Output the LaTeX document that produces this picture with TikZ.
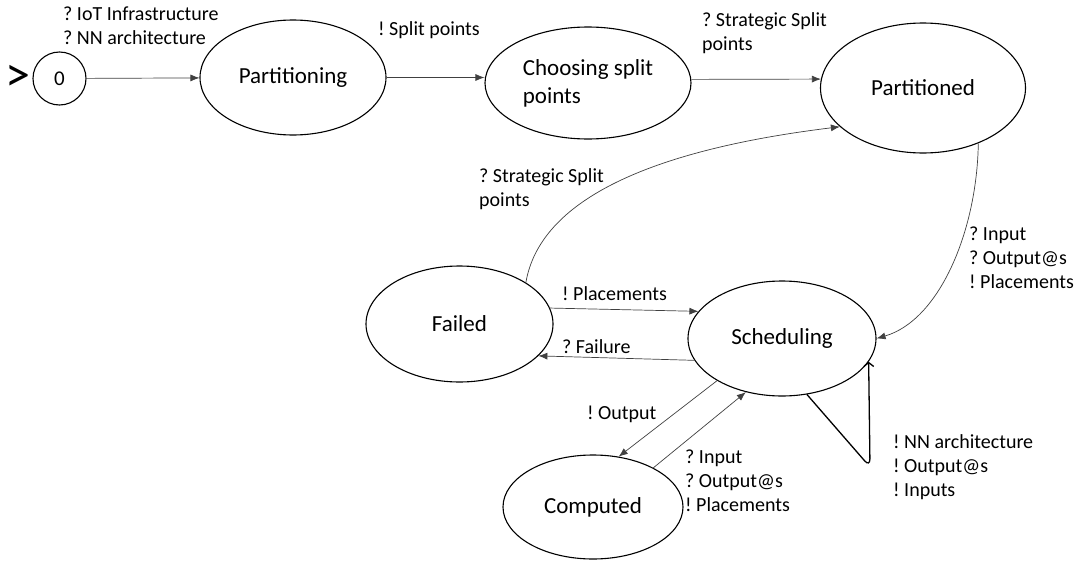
\documentclass[tikz,border=0pt]{standalone}
\usepackage{fontspec}
\setmainfont{Carlito}
\usetikzlibrary{shapes.geometric,arrows.meta}
\frenchspacing

\begin{document}
\begin{tikzpicture}[x=1pt,y=-1pt,
        state/.style={draw,ellipse,line width=1.1pt,inner sep=0pt,align=left,font=\fontsize{23}{28}\selectfont},
        trans/.style={draw=black!75,line width=0.7pt,-{Latex[length=9pt,width=7pt]}},
        lbl/.style={anchor=west,inner sep=0pt,align=left,font=\fontsize{20}{24}\selectfont}]
        \useasboundingbox (0,0) rectangle (1077,565);
        % states
        \node[draw,circle,line width=1.1pt,minimum size=53pt,inner sep=0pt,font=\fontsize{21}{24}\selectfont] (zero) at (59.5,78.5) {0};
        \node[inner sep=0pt,font=\fontsize{50}{50}\selectfont] (start) at (17.5,78) {>};
        \node[state,minimum width=186pt,minimum height=115pt] (part) at (293,77.5) {Partitioning};
        \node[state,minimum width=206pt,minimum height=112pt] (choose) at (588,83) {Choosing split\\points};
        \node[state,minimum width=205pt,minimum height=130pt] (parted) at (923,88) {Partitioned};
        \node[state,minimum width=187pt,minimum height=116pt] (failed) at (459.5,324) {Failed};
        \node[state,minimum width=188pt,minimum height=115pt] (sched) at (782,338.5) {Scheduling};
        \node[state,minimum width=180pt,minimum height=104pt] (comp) at (593,507) {Computed};
        \coordinate (loopbot) at (870,467);
        % transitions
        \draw[trans] (zero) -- (part);
        \draw[trans] (part.east) -- (choose.west |- part.east);
        \draw[trans] (choose.2) -- (parted.175);
        \draw[trans] (failed.32) .. controls (540,200) and (650,150) .. (parted.205);
        \draw[trans] (parted.-45) .. controls (977,230) and (940,320) .. (sched.east);
        \draw[trans] (failed.10) -- (sched.162);
        \draw[trans] (sched.194) -- (failed.-22);
        \draw[trans] (sched.213) -- (comp.63);
        \draw[trans] (comp.33) -- (sched.236);
        \draw[line width=1.3pt,rounded corners=8pt,-{Straight Barb[length=4pt,width=10pt]}] (sched.-66) -- (loopbot) -- (sched.-15);
        % labels
        \node[lbl] (lin) at (63,26) {? IoT Infrastructure\\? NN architecture};
        \node[lbl] (lsplit) at (378,30) {! Split points};
        \node[lbl] (lstrat) at (702,33.5) {? Strategic Split\\points};
        \node[lbl] (lstratb) at (479,189.5) {? Strategic Split\\points};
        \node[lbl] (lsched) at (969,258) {? Input\\? Output@s\\! Placements};
        \node[lbl] (lplace) at (562,294) {! Placements};
        \node[lbl] (lfail) at (562,347) {? Failure};
        \node[lbl] (lout) at (587,414) {! Output};
        \node[lbl] (lcomp) at (685,481) {? Input\\? Output@s\\! Placements};
        \node[lbl] (lloop) at (893,467) {! NN architecture\\! Output@s\\! Inputs};
\end{tikzpicture}
\end{document}
